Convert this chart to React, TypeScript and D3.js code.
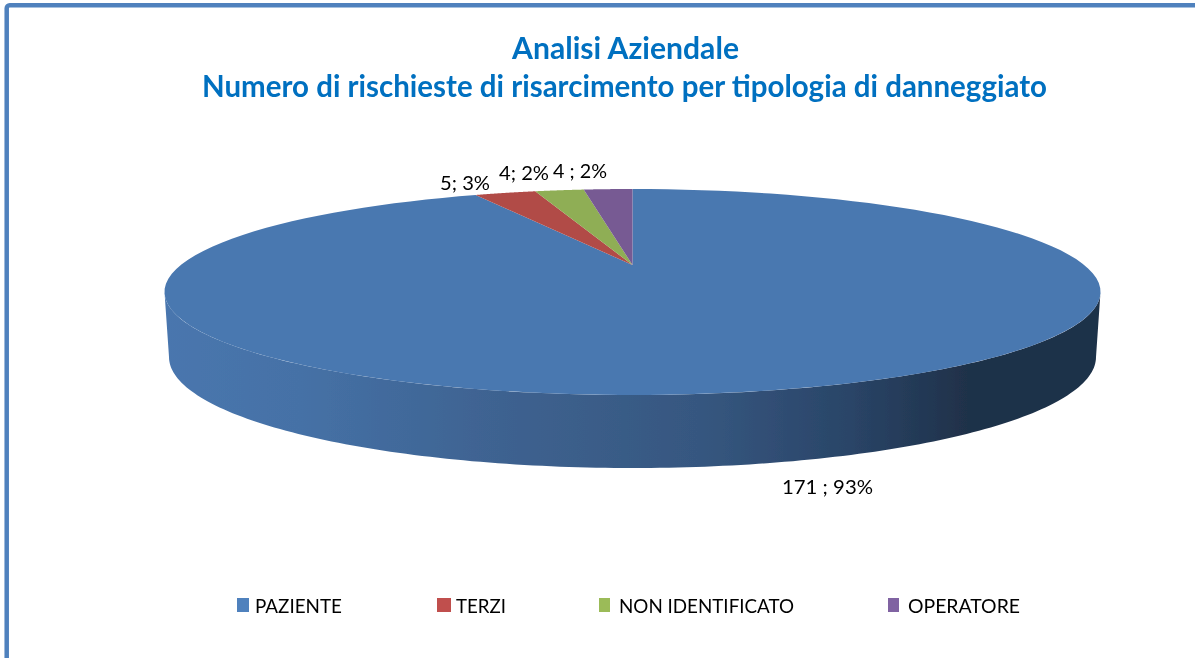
import React from "react";
import * as d3 from "d3";

const categories = ["PAZIENTE", "TERZI", "NON IDENTIFICATO", "OPERATORE"];
const values = [171, 5, 4, 4];
const labels = ["171 ; 93%", "5; 3%", "4; 2%", "4 ; 2%"];
const colors = ["#4a78b0", "#b14b47", "#8fae54", "#775a93"];
const legendColors = ["#4f81bd", "#c0504d", "#9bbb59", "#8064a2"];
const titleLines = ["Analisi Aziendale", "Numero di rischieste di risarcimento per tipologia di danneggiato"];
const wallStops: [number, string][] = [
  [0, "#4976ae"], [0.145, "#4571a6"], [0.36, "#3e6290"], [0.57, "#365780"],
  [0.73, "#2a4568"], [0.86, "#1f3149"], [1, "#1e3048"],
];

const W = 1195, H = 658, FONT = "Lato, 'Open Sans', sans-serif";
const cx = 632.5, cy = 265, A = 451.7, B = 95.9, K = 0.262;

// A flat circle seen in perspective: the pie's centre is not the ellipse's centre.
const project = (angle: number): [number, number] => {
  const u = Math.sin(angle), v = Math.cos(angle), w = 1 + K * v;
  return [cx + (A * u) / w, cy - (B * v) / w];
};
const arcPts = (a0: number, a1: number) =>
  d3.range(0, 121).map((i) => project(a0 + ((a1 - a0) * i) / 120));

const pie = d3.pie<number>().sort(null).startAngle(0).endAngle(2 * Math.PI);
const line = d3.line();
const arcs = pie(values);

const yMid = cy + (B * K) / (1 - K * K);
const xScale = d3.scaleLinear().domain([0, 1]).range([164, 1100]);
const botA = 463.5, botB = 111, botCx = 632.5, botCy = 357;
const wallTop = d3.range(0, 161).map((i): [number, number] => {
  const t = Math.PI * (1 - i / 160);
  return [cx + 468 * Math.cos(t), yMid + 103 * Math.sin(t)];
});
const wallBottom = d3.range(0, 161).map((i): [number, number] => {
  const t = Math.PI * (i / 160);
  return [botCx + botA * Math.cos(t), botCy + botB * Math.sin(t)];
});

const labelX = [782, 440, 499, 553];
const labelY = [494, 190, 180, 178];
const labelW = [91, 50, 50, 54];
const legendX = [237, 437, 599, 888];
const legendW = [12, 14, 11, 11];
const legendTextX = [255, 456, 619, 908];
const legendTextW = [87, 50, 175, 112];

export default function App() {
  return (
    <svg width={W} height={H} style={{ position: "fixed", left: 0, top: 0, background: "#fff" }}>
      <defs>
        <linearGradient id="wall" gradientUnits="userSpaceOnUse" x1={xScale(0)} x2={xScale(1)} y1="0" y2="0">
          {wallStops.map(([o, c]) => <stop key={o} offset={o} stopColor={c} />)}
        </linearGradient>
        <filter id="soft" filterUnits="userSpaceOnUse" x="0" y="0" width={W} height={H}>
          <feGaussianBlur stdDeviation="0.45" />
        </filter>
      </defs>
      <g filter="url(#soft)">
        <rect x={6.7} y={5.2} width={W + 40} height={H + 40} rx={3} fill="#fff" stroke="#4f81bd" strokeWidth={4.5} />
        <g fontFamily={FONT} fontWeight={700} fontSize={30} fill="#0070c0">
          <text x={512} y={59} textLength={227} lengthAdjust="spacingAndGlyphs">{titleLines[0]}</text>
          <text x={202} y={97} textLength={845} lengthAdjust="spacingAndGlyphs">{titleLines[1]}</text>
        </g>
        <path d={line([...wallTop, ...wallBottom])! + "Z"} fill="url(#wall)" />
        {arcs.map((a, i) => (
          <path key={categories[i]} d={line([[cx, cy], ...arcPts(a.startAngle, a.endAngle)])! + "Z"} fill={colors[i]} />
        ))}
        <g fontFamily={FONT} fontSize={20} fill="#000">
          {labels.map((l, i) => (
            <text key={l} x={labelX[i]} y={labelY[i]} textLength={labelW[i]} lengthAdjust="spacingAndGlyphs">{l}</text>
          ))}
        </g>
        <g fontFamily={FONT} fontSize={19} fill="#000">
          {categories.map((c, i) => (
            <g key={c}>
              <rect x={legendX[i]} y={598} width={legendW[i]} height={14} fill={legendColors[i]} />
              <text x={legendTextX[i]} y={613} textLength={legendTextW[i]} lengthAdjust="spacingAndGlyphs">{c}</text>
            </g>
          ))}
        </g>
      </g>
    </svg>
  );
}
